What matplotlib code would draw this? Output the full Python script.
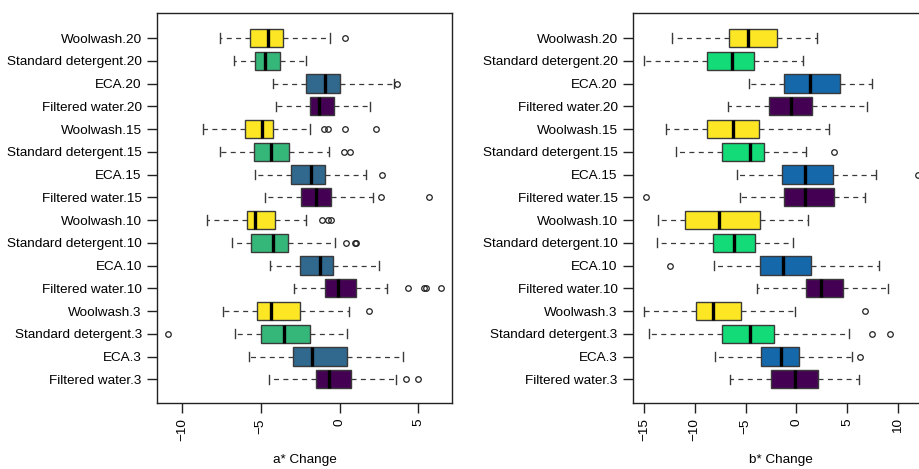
import matplotlib
matplotlib.use('Agg')
import matplotlib.pyplot as plt

plt.rcParams['font.family'] = ['Liberation Sans', 'DejaVu Sans']
plt.rcParams['font.size'] = 9.7

# group labels, top to bottom
groups = ["Woolwash.20", "Standard detergent.20", "ECA.20", "Filtered water.20",
          "Woolwash.15", "Standard detergent.15", "ECA.15", "Filtered water.15",
          "Woolwash.10", "Standard detergent.10", "ECA.10", "Filtered water.10",
          "Woolwash.3", "Standard detergent.3", "ECA.3", "Filtered water.3"]

# a* change - boxplot stats
a_whislo = [-7.6, -6.7, -4.2, -4.0, -8.65, -7.6, -5.35, -4.7, -8.4, -6.8, -4.4, -2.9, -7.4, -6.65, -5.75, -4.5]
a_q1 = [-5.65, -5.35, -2.15, -1.87, -6.0, -5.4, -3.1, -2.45, -5.9, -5.6, -2.5, -0.95, -5.25, -4.95, -2.95, -1.5]
a_med = [-4.55, -4.7, -0.92, -1.32, -4.9, -4.35, -1.8, -1.5, -5.35, -4.25, -1.25, -0.1, -4.35, -3.5, -1.75, -0.7]
a_q3 = [-3.6, -3.8, 0.05, -0.37, -4.25, -3.2, -0.95, -0.55, -4.1, -3.3, -0.4, 1.05, -2.5, -1.9, 0.48, 0.7]
a_whishi = [-0.6, -2.15, 3.45, 1.9, -1.85, -0.7, 1.7, 2.1, -2.15, -0.3, 2.5, 3.0, 0.6, 0.5, 4.0, 3.55]
a_fliers = [[0.35], [], [3.63], [], [-1.0, -0.75, 0.35, 2.32], [0.3, 0.63], [2.7], [2.6, 5.68],
            [-1.13, -0.75, -0.55], [0.42, 0.95, 1.05], [], [4.32, 5.38, 5.45, 6.4],
            [1.85], [-10.88], [], [4.2, 5.0]]

# b* change
b_whislo = [-12.2, -15.0, -4.7, -6.7, -12.8, -11.8, -5.8, -5.5, -13.6, -13.7, -8.1, -3.9, -15.0, -14.5, -8.0, -6.5]
b_q1 = [-6.6, -8.8, -1.25, -2.7, -8.8, -7.35, -1.45, -1.25, -11.0, -8.2, -3.6, 1.0, -9.9, -7.35, -3.45, -2.45]
b_med = [-4.75, -6.35, 1.3, -0.55, -6.2, -4.55, 0.85, 0.9, -7.65, -6.15, -1.35, 2.45, -8.2, -4.6, -1.55, -0.1]
b_q3 = [-1.95, -4.2, 4.3, 1.5, -3.7, -3.15, 3.6, 3.7, -3.55, -4.1, 1.45, 4.55, -5.45, -2.2, 0.25, 2.15]
b_whishi = [2.05, 0.65, 7.4, 6.95, 3.2, 1.0, 7.8, 6.75, 1.15, -0.35, 8.1, 9.0, -0.15, 5.2, 5.5, 6.2]
b_fliers = [[], [], [], [], [], [3.7], [11.97], [-14.8],
            [], [], [-12.4], [],
            [6.75], [7.4, 9.2], [6.3], []]

treat_colors_a = {"Woolwash": "#FDE725", "Standard detergent": "#35B779",
                  "ECA": "#31688E", "Filtered water": "#440154"}
treat_colors_b = {"Woolwash": "#FDE725", "Standard detergent": "#12DB77",
                  "ECA": "#1568AA", "Filtered water": "#440154"}


def draw_panel(ax, whislo, q1, med, q3, whishi, fliers, colors, xlabel, xlim, xticks):
    n = len(groups)
    stats = []
    for i in range(n):
        stats.append({'whislo': whislo[i], 'q1': q1[i], 'med': med[i], 'q3': q3[i],
                      'whishi': whishi[i], 'fliers': fliers[i], 'label': groups[i]})
    positions = list(range(n, 0, -1))
    bp = ax.bxp(stats, positions=positions, widths=0.8, orientation='horizontal',
                patch_artist=True, capwidths=0.4,
                boxprops=dict(edgecolor='#3a3a3a', linewidth=1.0),
                medianprops=dict(color='black', linewidth=2.4, solid_capstyle='butt'),
                whiskerprops=dict(color='#3a3a3a', linewidth=0.9, linestyle=(0, (4, 3.5))),
                capprops=dict(color='#3a3a3a', linewidth=1.0),
                flierprops=dict(marker='o', markersize=4, markerfacecolor='none',
                                markeredgecolor='#222222', markeredgewidth=0.9))
    for patch, g in zip(bp['boxes'], groups):
        patch.set_facecolor(colors[g.rsplit('.', 1)[0]])
    ax.set_ylim(-0.05, 17.1)
    ax.set_xlim(*xlim)
    ax.set_xticks(xticks)
    ax.set_xticklabels([str(t).replace('-', '\u2212') for t in xticks], rotation=90)
    ax.set_yticks(positions)
    ax.set_yticklabels(groups)
    ax.tick_params(direction='out', length=7, width=1, color='#222222', pad=4)
    for s in ax.spines.values():
        s.set_linewidth(1.0)
        s.set_color('#222222')
    ax.set_xlabel(xlabel, labelpad=9)


fig = plt.figure(figsize=(9.2, 4.69), dpi=100)
ax1 = fig.add_axes([0.1707, 0.1403, 0.3207, 0.832])
ax2 = fig.add_axes([0.6880, 0.1403, 0.3217, 0.832])

draw_panel(ax1, a_whislo, a_q1, a_med, a_q3, a_whishi, a_fliers, treat_colors_a,
           'a* Change', (-11.57, 7.13), [-10, -5, 0, 5])
draw_panel(ax2, b_whislo, b_q1, b_med, b_q3, b_whishi, b_fliers, treat_colors_b,
           'b* Change', (-16.08, 13.05), [-15, -10, -5, 0, 5, 10])

fig.savefig('out.png', dpi=100)
